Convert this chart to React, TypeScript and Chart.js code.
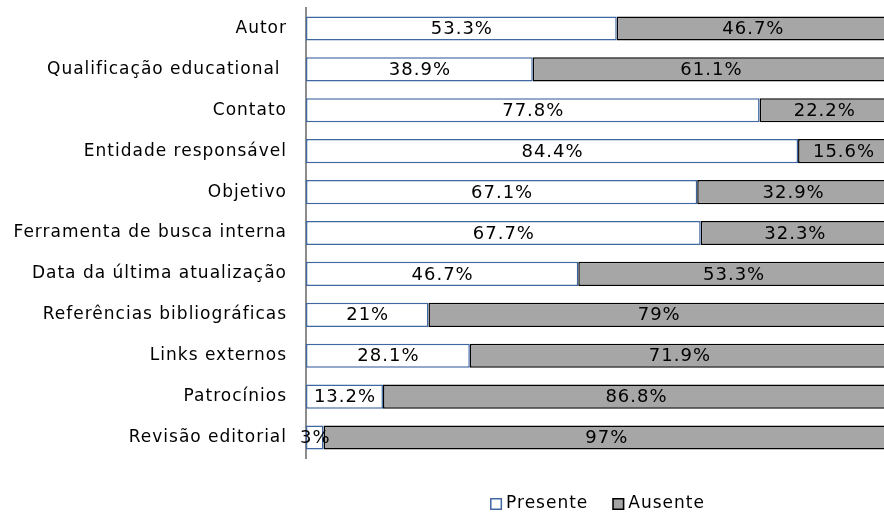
import React, { useEffect, useRef } from "react";
import { Chart, registerables } from "chart.js";

Chart.register(...registerables);

const categories = [
  "Autor",
  "Qualificação educational ",
  "Contato",
  "Entidade responsável",
  "Objetivo",
  "Ferramenta de busca interna",
  "Data da última atualização",
  "Referências bibliográficas",
  "Links externos",
  "Patrocínios",
  "Revisão editorial",
];
const presente = [53.3, 38.9, 77.8, 84.4, 67.1, 67.7, 46.7, 21, 28.1, 13.2, 3];
const ausente = [46.7, 61.1, 22.2, 15.6, 32.9, 32.3, 53.3, 79, 71.9, 86.8, 97];
const seriesNames = ["Presente", "Ausente"];

const FONT = "'DejaVu Sans', sans-serif";
const BLUE = "#3f68a3";
const GRAY = "#a6a6a6";

const spacing = {
  id: "spacing",
  beforeDraw(chart: any) {
    chart.ctx.letterSpacing = "1px";
  },
};

const valueLabels = {
  id: "valueLabels",
  afterDatasetsDraw(chart: any) {
    const ctx = chart.ctx;
    ctx.save();
    ctx.letterSpacing = "1px";
    ctx.font = `18px ${FONT}`;
    ctx.fillStyle = "#000";
    ctx.textAlign = "center";
    ctx.textBaseline = "middle";
    chart.data.datasets.forEach((ds: any, di: number) => {
      const meta = chart.getDatasetMeta(di);
      meta.data.forEach((el: any, i: number) => {
        const cx = (el.x + el.base) / 2;
        ctx.fillText(`${ds.data[i]}%`, cx + 0.5, el.y + 1);
      });
    });
    ctx.restore();
  },
};

const customLegend = {
  id: "customLegend",
  afterDraw(chart: any) {
    const ctx = chart.ctx;
    const area = chart.chartArea;
    ctx.save();
    ctx.letterSpacing = "1px";
    ctx.font = `17px ${FONT}`;
    ctx.textBaseline = "middle";
    ctx.textAlign = "left";
    const box = 12;
    const gap = 4;
    const itemGap = 24;
    const items = chart.data.datasets.map((ds: any) => ({
      label: ds.label,
      fill: ds.backgroundColor,
      stroke: ds.borderColor,
      w: box + gap + ctx.measureText(ds.label).width,
    }));
    const total = items.reduce((s: number, it: any) => s + it.w, 0) + itemGap * (items.length - 1);
    let x = (area.left + area.right) / 2 - total / 2;
    const y = 504;
    items.forEach((it: any) => {
      ctx.fillStyle = it.fill;
      ctx.fillRect(x, y - box / 2, box, box);
      ctx.strokeStyle = it.stroke;
      ctx.lineWidth = 1.5;
      ctx.strokeRect(x + 0.75, y - box / 2 + 0.75, box - 1.5, box - 1.5);
      ctx.fillStyle = "#000";
      ctx.fillText(it.label, x + box + gap, y);
      x += it.w + itemGap;
    });
    ctx.restore();
  },
};

export default function App() {
  const ref = useRef<HTMLCanvasElement>(null);
  useEffect(() => {
    document.body.style.overflow = "hidden";
    const chart = new Chart(ref.current as HTMLCanvasElement, {
      type: "bar",
      data: {
        labels: categories,
        datasets: [
          {
            label: seriesNames[0],
            data: presente,
            backgroundColor: "#ffffff",
            borderColor: BLUE,
            borderWidth: 1.5,
            borderSkipped: false,
          },
          {
            label: seriesNames[1],
            data: ausente,
            backgroundColor: GRAY,
            borderColor: "#000000",
            borderWidth: 1.5,
            borderSkipped: false,
          },
        ],
      },
      options: {
        indexAxis: "y",
        animation: false,
        responsive: false,
        layout: { padding: { top: 8, right: 1, bottom: 54, left: 0 } },
        datasets: { bar: { categoryPercentage: 1, barPercentage: 0.59 } },
        plugins: {
          legend: { display: false },
          tooltip: { enabled: false },
        },
        scales: {
          x: { stacked: true, min: 0, max: 100, display: false },
          y: {
            stacked: true,
            grid: { display: false, drawTicks: false },
            border: { display: true, color: "#8c8c8c", width: 2 },
            ticks: { color: "#000", font: { family: FONT, size: 17 }, padding: 19 },
            afterFit(scale: any) {
              scale.width = 306;
              scale.paddingTop = 0;
              scale.paddingBottom = 0;
            },
          },
        },
      },
      plugins: [spacing, valueLabels, customLegend],
    } as any);
    return () => chart.destroy();
  }, []);
  return (
    <div style={{ position: "fixed", left: 0, top: 0, width: 890, height: 512 }}>
      <canvas ref={ref} width={890} height={512} style={{ display: "block" }} />
    </div>
  );
}
